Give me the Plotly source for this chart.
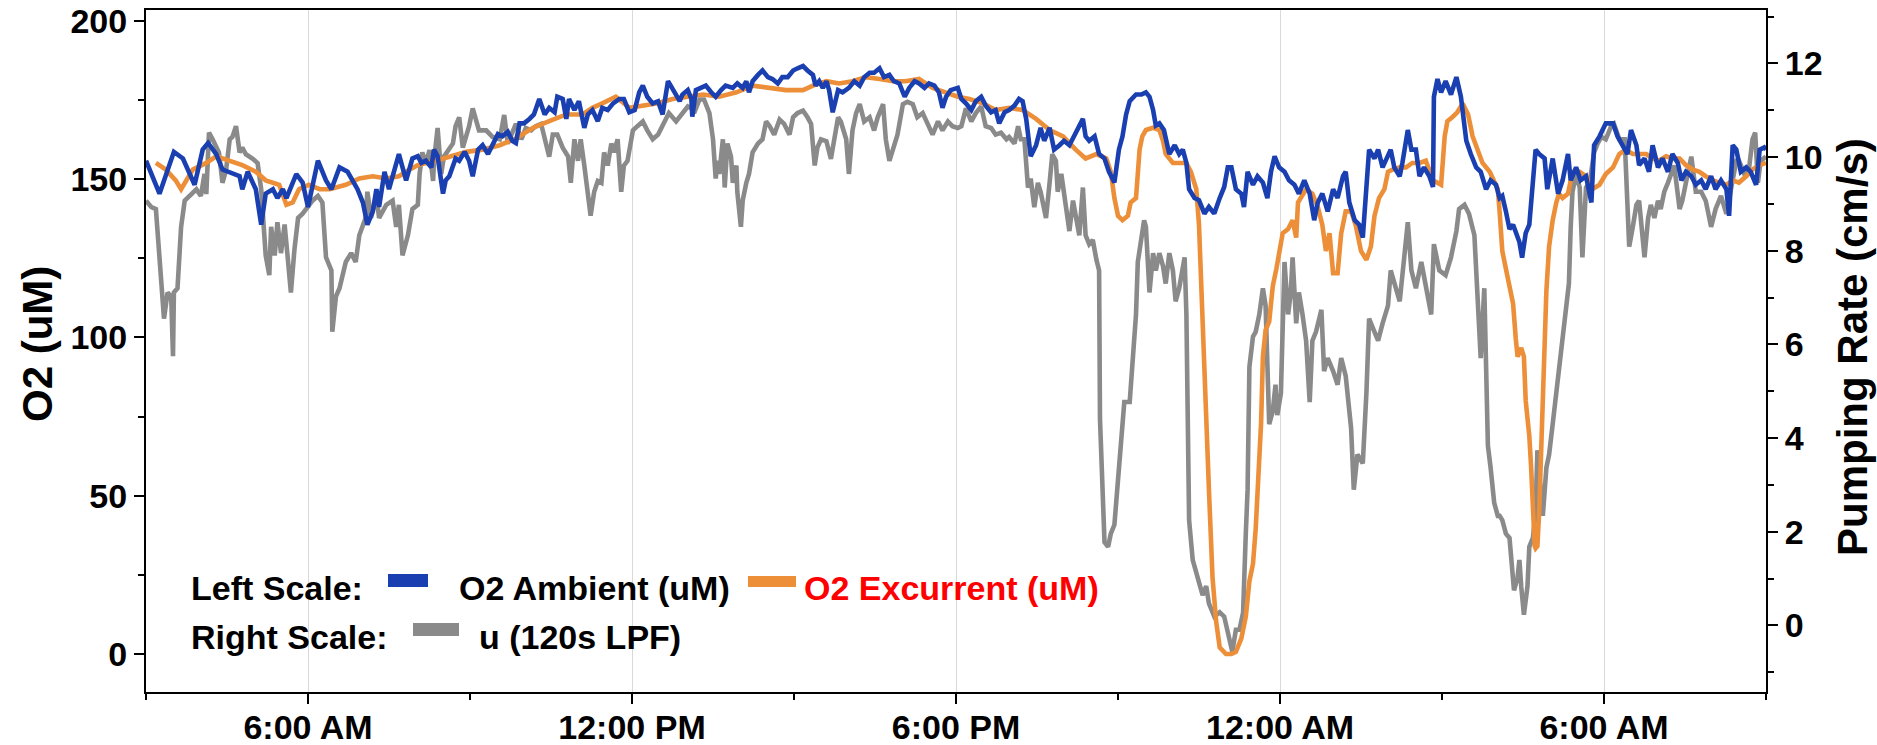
import pandas as pd
import plotly.graph_objects as go

# ---------------- data (minutes after 3:00 AM) ----------------
start = pd.Timestamp("2016-08-01 03:00")

ambient_min = [0, 15, 31, 41, 54, 63, 69, 78, 85, 96, 104, 107, 113, 122, 128, 133, 141, 146, 152, 156, 167, 174, 180, 191, 200, 206, 215, 224, 235, 241, 246, 252, 256, 259, 265, 270, 276, 281, 289, 296, 302,
               306, 311, 317, 320, 324, 330, 333, 337, 341, 344, 348, 354, 359, 363, 369, 374, 380, 385, 391, 396, 402, 407, 411, 415, 420, 426, 431, 437, 443, 448, 454, 457, 463, 467, 470, 476, 481, 487, 491, 496, 502, 507, 513, 519, 526, 531, 537, 543, 548, 552, 557, 563, 569, 574, 580, 583, 587, 593, 596, 602,
               606, 607, 611, 617, 622, 628, 633, 639, 644, 652, 657, 663, 667, 670, 674, 680, 685, 691, 696, 702, 707, 713, 719, 724, 730, 735, 741, 744, 748, 752, 756, 759, 763, 769, 774, 781, 787, 793, 798, 804, 809, 815, 820, 826, 831, 837, 843, 848, 854, 859, 865, 870, 876, 881, 885, 889, 894, 902,
               906, 911, 917, 922, 928, 933, 939, 944, 948, 954, 959, 965, 970, 974, 978, 983, 989, 994, 998, 1004, 1009, 1015, 1020, 1026, 1031, 1037, 1041, 1044, 1048, 1054, 1059, 1065, 1070, 1076, 1081, 1085, 1089, 1093, 1100, 1106, 1111, 1115, 1119, 1122, 1126, 1131, 1137, 1143, 1148, 1152, 1156, 1159, 1165, 1170, 1176, 1181, 1187, 1193, 1198, 1202,
               1206, 1211, 1217, 1220, 1224, 1230, 1235, 1241, 1246, 1250, 1254, 1259, 1265, 1270, 1276, 1281, 1287, 1293, 1298, 1302, 1307, 1313, 1319, 1324, 1330, 1333, 1337, 1343, 1348, 1352, 1356, 1359, 1365, 1369, 1374, 1380, 1383, 1387, 1393, 1396, 1402, 1406, 1411, 1415, 1420, 1426, 1430, 1431, 1435, 1439, 1444, 1450, 1456, 1461, 1467, 1472, 1478, 1483, 1489, 1494, 1500,
               1504, 1507, 1511, 1515, 1519, 1522, 1526, 1529, 1533, 1537, 1541, 1544, 1548, 1554, 1557, 1563, 1569, 1574, 1580, 1583, 1589, 1594, 1600, 1606, 1609, 1615, 1622, 1630, 1635, 1641, 1646, 1650, 1656, 1659, 1665, 1670, 1674, 1680, 1685, 1691, 1696, 1702, 1706, 1711, 1717, 1722, 1728, 1733, 1739, 1744, 1750, 1756, 1759, 1763, 1767, 1772, 1778, 1783, 1789, 1793, 1798, 1800]
ambient_o2 = [155.8, 145.4, 158.6, 156.5, 148.2, 159.3, 161.4, 157.9, 153.0, 151.6, 150.9, 146.8, 152.3, 146.8, 135.6, 145.4, 146.8, 144.0, 146.8, 144.0, 151.6, 148.9, 141.2, 155.8, 149.6, 146.8, 153.7, 152.3, 146.8, 142.6, 135.6, 139.8, 146.8, 141.2, 152.3, 146.8, 152.3, 157.9, 149.6, 156.5, 157.2,
              155.1, 155.8, 153.7, 159.3, 157.2, 145.4, 149.6, 150.9, 153.7, 156.5, 155.8, 158.6, 155.8, 150.9, 159.3, 160.7, 157.9, 160.7, 164.2, 163.5, 164.9, 162.1, 161.4, 167.6, 167.6, 169.0, 170.4, 175.3, 170.4, 172.5, 171.1, 176.0, 175.3, 169.0, 175.3, 171.8, 174.6, 166.2, 170.4, 171.8, 168.3, 172.5, 171.8, 173.9, 175.3, 175.3, 171.1, 171.8, 177.4, 179.5, 176.0, 173.9, 174.6, 170.4, 180.9, 179.5, 177.4, 174.6, 176.7, 178.1,
              175.3, 169.7, 178.1, 178.8, 179.5, 177.4, 176.0, 178.1, 179.5, 178.8, 180.2, 178.8, 180.9, 177.4, 180.9, 182.9, 184.3, 182.2, 181.6, 180.2, 182.2, 182.2, 184.3, 185.0, 185.7, 184.3, 182.9, 179.5, 180.9, 178.8, 180.9, 178.1, 171.1, 178.1, 177.4, 178.8, 180.9, 179.5, 182.2, 183.6, 183.6, 185.0, 182.2, 182.9, 180.9, 180.2, 176.0, 178.8, 180.9, 180.2, 178.8, 180.2, 179.5, 177.4, 172.5, 176.0, 178.1, 178.8,
              175.3, 173.9, 171.8, 174.6, 176.0, 173.2, 171.1, 171.8, 167.6, 171.1, 171.8, 173.2, 175.3, 174.6, 169.0, 157.2, 160.7, 166.2, 162.1, 166.2, 159.3, 160.7, 162.1, 160.7, 163.5, 166.2, 169.0, 163.5, 162.1, 163.5, 157.9, 156.5, 152.3, 148.9, 159.3, 163.5, 170.4, 174.6, 176.7, 176.7, 177.4, 176.0, 171.8, 166.9, 167.6, 165.5, 157.9, 160.7, 157.9, 159.3, 155.1, 146.8, 144.0, 143.3, 139.1, 141.2, 139.1, 144.0, 147.5, 153.7,
              153.7, 146.8, 145.4, 141.2, 152.3, 148.2, 150.9, 148.9, 144.0, 152.3, 157.2, 153.7, 152.3, 149.6, 148.2, 145.4, 149.6, 145.4, 137.0, 142.6, 145.4, 139.8, 146.8, 144.0, 150.9, 152.3, 142.6, 137.0, 135.6, 131.5, 145.4, 159.3, 156.5, 159.3, 153.7, 157.9, 159.3, 153.7, 150.9, 155.1, 165.5, 159.3, 159.3, 150.9, 153.7, 150.9, 147.5, 176.0, 181.6, 177.4, 180.9, 176.7, 182.2, 176.0, 162.1, 157.9, 153.7, 152.3, 146.8, 149.6, 148.2,
              144.0, 144.7, 139.8, 134.2, 135.6, 132.9, 130.1, 125.2, 132.9, 135.6, 149.6, 159.3, 157.9, 156.5, 146.8, 156.5, 145.4, 149.6, 157.9, 149.6, 153.7, 149.6, 150.9, 142.6, 160.7, 163.5, 167.6, 167.6, 163.5, 160.7, 157.9, 165.5, 160.7, 154.4, 156.5, 152.3, 160.7, 153.7, 156.5, 152.3, 157.9, 155.1, 149.6, 152.3, 150.9, 148.2, 149.6, 146.8, 150.9, 146.8, 149.6, 146.8, 138.4, 160.7, 159.3, 152.3, 153.7, 152.3, 148.2, 159.3, 160.0, 159.3]

excurrent_min = [11, 22, 33, 39, 52, 67, 78, 93, 107, 122, 133, 148, 156, 163, 170, 181, 193, 204, 222, 237, 252, 267, 281, 293, 302,
                 322, 337, 356, 374, 393, 411, 430, 448, 467, 485, 496, 507, 522, 537, 552, 567, 585, 602,
                 619, 637, 656, 674, 693, 711, 730, 741, 756, 770, 785, 800, 815, 830, 844, 859, 874, 889, 902,
                 915, 930, 944, 959, 974, 989, 1004, 1019, 1033, 1044, 1056, 1067, 1072, 1076, 1080, 1085, 1091, 1094, 1100, 1102, 1104, 1107, 1111, 1119, 1126, 1130, 1133, 1141, 1148, 1156, 1161, 1167, 1170, 1174, 1176, 1181, 1185, 1189, 1193, 1200,
                 1206, 1211, 1217, 1222, 1226, 1230, 1233, 1237, 1239, 1241, 1244, 1248, 1252, 1256, 1259, 1263, 1269, 1274, 1278, 1280, 1283, 1289, 1296, 1302, 1307, 1311, 1315, 1319, 1324, 1328, 1333, 1339, 1344, 1350, 1356, 1361, 1365, 1370, 1376, 1380, 1385, 1393, 1400, 1407, 1415, 1422, 1430, 1439, 1443, 1446, 1452, 1457, 1463, 1469, 1474, 1480, 1485, 1493, 1502,
                 1504, 1507, 1511, 1515, 1519, 1522, 1524, 1528, 1531, 1533, 1537, 1539, 1541, 1543, 1544, 1546, 1548, 1550, 1552, 1554, 1556, 1559, 1563, 1567, 1570, 1574, 1580, 1585, 1593, 1600, 1607, 1615, 1622, 1630, 1637, 1644, 1652, 1659, 1667, 1674, 1681, 1689, 1696, 1704, 1711, 1719, 1726, 1733, 1741, 1748, 1756, 1763, 1770, 1778, 1785, 1793, 1800]
excurrent_o2 = [155.1, 153.0, 149.6, 146.8, 153.0, 155.1, 157.2, 155.8, 154.4, 152.3, 149.6, 148.2, 141.9, 142.6, 146.8, 148.2, 146.8, 146.8, 148.2, 150.2, 150.9, 150.2, 150.9, 153.0, 154.4,
                155.8, 157.2, 158.6, 159.3, 160.7, 162.8, 166.2, 168.3, 170.4, 170.4, 172.5, 173.9, 176.0, 172.5, 173.2, 173.9, 175.3, 176.0,
                176.7, 176.0, 177.4, 179.5, 178.8, 178.1, 178.1, 179.5, 180.9, 180.2, 180.9, 182.2, 181.6, 180.9, 180.9, 181.6, 178.8, 177.4, 176.0,
                175.3, 173.9, 171.8, 172.5, 171.8, 169.0, 165.5, 163.5, 159.3, 156.5, 157.9, 156.5, 152.3, 144.0, 138.4, 137.0, 138.4, 142.6, 144.0, 152.3, 159.3, 163.5, 165.5, 166.2, 165.5, 162.1, 157.9, 155.1, 155.1, 155.1, 152.3, 146.8, 135.6, 105.0, 82.8, 52.2, 24.3, 10.4, 2.1, 0.0,
                0.0, 0.7, 4.9, 11.8, 23.0, 28.5, 39.6, 59.1, 73.0, 93.9, 102.3, 105.0, 116.2, 121.7, 125.9, 132.9, 134.2, 137.0, 131.5, 142.6, 144.0, 146.8, 145.4, 141.2, 135.6, 127.3, 132.9, 120.3, 120.3, 132.9, 139.8, 139.8, 135.6, 127.3, 124.5, 128.7, 138.4, 144.0, 146.8, 152.3, 153.0, 153.7, 153.7, 155.1, 155.1, 155.8, 149.6, 148.2, 163.5, 168.3, 169.7, 171.1, 173.9, 170.4, 163.5, 159.3, 155.1, 152.3, 146.8,
                139.8, 127.3, 121.7, 116.2, 110.6, 99.5, 93.9, 96.7, 93.9, 80.0, 68.9, 59.1, 45.2, 34.1, 33.4, 34.1, 45.2, 61.9, 80.0, 93.9, 114.8, 128.7, 137.0, 142.6, 145.4, 144.0, 145.4, 152.3, 152.3, 150.9, 146.8, 148.2, 151.6, 153.7, 157.9, 159.3, 157.9, 157.9, 157.9, 156.5, 155.8, 157.2, 156.5, 156.5, 154.4, 153.0, 152.3, 150.9, 149.6, 148.9, 148.2, 149.6, 148.9, 150.9, 153.0, 154.4, 155.1]

pump_min = [0, 6, 11, 17, 20, 24, 28, 30, 31, 35, 39, 43, 48, 56, 61, 65, 67, 70, 74, 78, 81, 85, 89, 93, 96, 100, 104, 107, 111, 119, 124, 128, 133, 137, 139, 143, 146, 150, 154, 157, 161, 165, 169, 174, 180, 185, 191, 196, 200, 206, 207, 211, 215, 219, 222, 228, 233, 237, 241, 244, 246, 250, 256, 259, 267, 274, 278, 281, 285, 291, 296, 302,
            304, 307, 311, 315, 319, 320, 324, 328, 331, 337, 341, 344, 348, 352, 356, 359, 363, 367, 370, 378, 385, 393, 398, 402, 406, 411, 417, 422, 428, 433, 439, 444, 448, 452, 457, 463, 469, 472, 476, 480, 483, 487, 491, 494, 498, 502, 506, 509, 513, 517, 520, 524, 528, 531, 535, 541, 546, 552, 557, 563, 569, 574, 581, 589, 596, 602,
            606, 609, 615, 620, 626, 630, 633, 635, 637, 641, 643, 646, 650, 652, 656, 657, 661, 663, 667, 670, 674, 680, 685, 689, 693, 698, 704, 709, 715, 719, 724, 730, 735, 739, 743, 746, 750, 756, 761, 765, 769, 772, 778, 781, 785, 789, 793, 798, 804, 809, 813, 819, 822, 826, 830, 835, 841, 846, 852, 857, 863, 869, 874, 880, 885, 891, 896, 902,
            906, 911, 917, 922, 928, 933, 939, 944, 950, 956, 959, 965, 969, 972, 976, 980, 983, 987, 991, 994, 1000, 1004, 1007, 1011, 1013, 1017, 1020, 1026, 1030, 1033, 1037, 1041, 1044, 1048, 1052, 1056, 1059, 1060, 1062, 1065, 1069, 1072, 1076, 1080, 1083, 1087, 1093, 1096, 1100, 1102, 1106, 1109, 1111, 1115, 1119, 1122, 1126, 1130, 1133, 1137, 1141, 1144, 1148, 1154, 1156, 1157, 1159, 1163, 1167, 1170, 1174, 1178, 1181, 1187, 1193, 1198, 1202,
            1204, 1207, 1211, 1215, 1219, 1220, 1222, 1224, 1226, 1230, 1233, 1237, 1241, 1244, 1248, 1252, 1255, 1257, 1261, 1265, 1269, 1272, 1274, 1278, 1281, 1285, 1289, 1293, 1296, 1300, 1306, 1309, 1313, 1319, 1324, 1328, 1333, 1339, 1342, 1346, 1352, 1356, 1359, 1363, 1369, 1374, 1380, 1383, 1387, 1393, 1396, 1402, 1406, 1411, 1417, 1422, 1428, 1431, 1437, 1444, 1450, 1456, 1459, 1465, 1470, 1476, 1481, 1483, 1487, 1491, 1494, 1498, 1502,
            1504, 1507, 1511, 1515, 1517, 1520, 1524, 1526, 1528, 1531, 1535, 1537, 1541, 1544, 1546, 1550, 1552, 1556, 1559, 1563, 1567, 1570, 1574, 1578, 1581, 1583, 1585, 1589, 1593, 1596, 1600, 1604, 1609, 1613, 1617, 1622, 1628, 1631, 1637, 1643, 1646, 1648, 1652, 1656, 1659, 1665, 1669, 1672, 1676, 1680, 1683, 1687, 1691, 1694, 1698, 1704, 1707, 1713, 1717, 1722, 1728, 1733, 1739, 1744, 1750, 1756, 1761, 1767, 1770, 1776, 1781, 1785, 1788, 1791, 1794, 1800]
pump_rate = [9.07, 8.93, 8.89, 7.20, 6.55, 7.11, 7.02, 5.75, 7.11, 7.20, 8.51, 9.07, 9.17, 9.31, 9.17, 9.64, 9.21, 10.52, 10.38, 10.20, 10.10, 9.45, 9.73, 10.38, 10.43, 10.66, 10.10, 10.20, 10.06, 9.96, 9.87, 9.31, 7.90, 7.48, 8.51, 7.90, 8.61, 7.95, 8.56, 7.95, 7.11, 8.04, 8.70, 8.79, 8.93, 9.07, 9.17, 9.03, 7.86, 7.58, 6.27, 7.02, 7.20, 7.48, 7.76, 7.95, 7.76, 8.33, 8.51, 8.70, 9.26, 8.70, 9.17, 8.70, 8.98, 9.07, 8.51, 8.98, 7.90, 8.33, 8.89, 8.98,
             9.64, 10.10, 9.87, 10.15, 9.49, 9.92, 10.62, 9.64, 10.01, 10.20, 10.29, 10.66, 10.85, 10.20, 10.48, 10.66, 11.04, 10.76, 10.57, 10.57, 10.43, 10.38, 10.90, 10.29, 10.48, 10.71, 10.38, 10.62, 10.57, 10.66, 10.71, 10.29, 10.01, 10.48, 10.48, 10.20, 10.01, 9.45, 10.38, 9.92, 10.38, 9.82, 9.26, 8.75, 9.26, 9.49, 9.45, 10.10, 9.82, 10.29, 10.10, 10.38, 9.26, 9.82, 9.92, 10.57, 10.66, 10.76, 10.57, 10.38, 10.48, 10.66, 10.94, 10.76, 10.94, 11.08,
             11.04, 10.94, 11.23, 11.23, 10.94, 10.38, 9.54, 9.92, 9.64, 10.38, 9.35, 10.29, 10.01, 9.45, 9.82, 9.26, 8.51, 9.07, 9.45, 9.64, 10.10, 10.29, 10.38, 10.76, 10.66, 10.48, 10.80, 10.71, 10.48, 10.85, 10.94, 10.99, 10.85, 10.71, 9.82, 10.20, 10.38, 10.34, 9.96, 10.48, 10.85, 10.76, 10.38, 9.64, 10.57, 10.94, 11.13, 10.76, 10.85, 10.57, 10.85, 11.13, 10.38, 9.92, 10.20, 10.48, 11.13, 11.18, 11.13, 10.85, 10.94, 10.66, 10.48, 10.76, 10.57, 10.76, 10.66, 10.62,
             10.66, 11.04, 10.76, 10.94, 11.08, 10.66, 10.62, 10.48, 10.52, 10.38, 10.43, 10.29, 10.66, 10.38, 10.38, 9.35, 9.54, 8.93, 9.45, 9.26, 8.70, 9.45, 10.06, 9.92, 9.26, 9.64, 9.17, 8.42, 9.07, 8.70, 8.33, 9.35, 8.33, 8.14, 8.23, 7.81, 7.58, 4.40, 3.09, 1.78, 1.68, 1.96, 2.15, 3.18, 4.02, 4.77, 4.77, 5.52, 6.64, 7.76, 8.33, 8.65, 8.51, 7.11, 7.95, 7.58, 7.95, 7.67, 7.30, 7.95, 7.58, 6.92, 7.20, 7.86, 6.64, 4.77, 2.25, 1.40, 1.12, 0.84, 0.65, 0.84, 0.47, 0.19, 0.28, 0.19, -0.19,
             -0.28, -0.56, -0.09, -0.09, 0.28, 1.03, 1.96, 2.90, 5.52, 6.17, 6.27, 6.64, 7.20, 6.83, 4.30, 4.58, 5.14, 4.49, 4.96, 7.76, 6.64, 7.11, 7.86, 6.45, 7.11, 6.64, 6.08, 4.77, 6.08, 6.27, 6.74, 5.43, 5.71, 5.43, 5.14, 5.71, 5.33, 4.21, 2.90, 3.65, 3.46, 4.96, 6.55, 6.36, 6.08, 6.45, 6.83, 7.58, 7.30, 6.92, 7.48, 8.61, 7.58, 7.20, 7.76, 7.20, 6.64, 8.14, 7.58, 7.48, 7.86, 8.42, 8.89, 8.98, 8.79, 8.33, 6.64, 5.71, 7.20, 3.84, 3.37, 2.62, 2.34,
             2.34, 2.25, 1.96, 1.87, 1.40, 0.75, 1.03, 1.40, 0.84, 0.23, 0.84, 1.68, 1.87, 2.43, 3.74, 2.90, 2.34, 3.37, 3.65, 4.30, 4.96, 5.52, 6.08, 6.83, 7.30, 8.51, 9.26, 9.64, 9.35, 7.86, 9.35, 9.45, 10.10, 10.29, 10.43, 10.38, 10.66, 10.71, 10.38, 10.38, 8.98, 8.09, 8.51, 8.98, 9.07, 7.86, 8.70, 8.98, 8.70, 9.07, 8.89, 9.26, 9.45, 9.64, 9.82, 8.89, 9.07, 9.64, 10.01, 9.26, 9.26, 9.07, 8.51, 8.89, 9.17, 8.79, 9.26, 9.92, 9.92, 9.64, 9.73, 10.38, 10.52, 9.45, 9.92, 10.01]

# axis ticks (hours after start) and labels
x_tick_hours = [3, 9, 15, 21, 27]
x_tick_labels = ["6:00 AM", "12:00 PM", "6:00 PM", "12:00 AM", "6:00 AM"]
o2_ticks = [0, 50, 100, 150, 200]
pump_ticks = [0, 2, 4, 6, 8, 10, 12]

# ---------------- figure ----------------
FONT = "Liberation Sans, Arial, sans-serif"
BLUE = "#1a3fb0"
ORANGE = "#ec8f38"
GRAY = "#8a8a8a"
LW = 4.6

def to_time(mins):
    return [start + pd.Timedelta(minutes=m) for m in mins]

fig = go.Figure()
# pumping rate on the primary (right-side) axis so it sits underneath the O2 lines
fig.add_trace(go.Scatter(x=to_time(pump_min), y=pump_rate, mode="lines",
                         line=dict(color=GRAY, width=LW), yaxis="y", showlegend=False))
fig.add_trace(go.Scatter(x=to_time(excurrent_min), y=excurrent_o2, mode="lines",
                         line=dict(color=ORANGE, width=LW), yaxis="y2", showlegend=False))
fig.add_trace(go.Scatter(x=to_time(ambient_min), y=ambient_o2, mode="lines",
                         line=dict(color=BLUE, width=LW), yaxis="y2", showlegend=False))

tick_font = dict(family=FONT, size=34, color="black", weight="bold")

L, R, T, B = 146, 1766, 10, 692   # plot area in pixels
fig.update_layout(
    width=1877, height=745,
    margin=dict(l=L, r=1877 - R, t=T, b=745 - B),
    paper_bgcolor="white", plot_bgcolor="white",
    showlegend=False,
    xaxis=dict(
        type="date", automargin=False,
        range=[start, start + pd.Timedelta(hours=30)],
        tickmode="array",
        tickvals=[start + pd.Timedelta(hours=h) for h in x_tick_hours],
        ticktext=x_tick_labels,
        ticks="outside", ticklen=10, tickwidth=1.5, tickcolor="black",
        tickfont=tick_font, ticklabelstandoff=-6,
        showgrid=True, gridcolor="#d9d9d9", gridwidth=1,
        showline=True, linecolor="black", linewidth=2, mirror=True,
        zeroline=False,
        minor=dict(tickmode="linear", tick0=start, dtick=3 * 3600 * 1000,
                   ticks="outside", ticklen=6, tickcolor="black", showgrid=False),
    ),
    yaxis=dict(
        side="right", automargin=False,
        range=[-1.42, 13.14],
        tickmode="array", tickvals=pump_ticks,
        ticks="outside", ticklen=10, tickwidth=1.5, tickcolor="black",
        tickfont=tick_font,
        showgrid=False, zeroline=False,
        showline=True, linecolor="black", linewidth=2,
        minor=dict(tickmode="linear", tick0=0, dtick=1, ticks="outside",
                   ticklen=6, tickcolor="black", showgrid=False),
    ),
    yaxis2=dict(
        side="left", overlaying="y", automargin=False,
        range=[-12.0, 203.4],
        tickmode="array", tickvals=o2_ticks,
        ticks="outside", ticklen=10, tickwidth=1.5, tickcolor="black",
        tickfont=tick_font,
        showgrid=False, zeroline=False,
        showline=True, linecolor="black", linewidth=2,
        minor=dict(tickmode="linear", tick0=0, dtick=25, ticks="outside",
                   ticklen=6, tickcolor="black", showgrid=False),
    ),
)

def px_x(X):
    return (X - L) / float(R - L)

def px_y(Y):
    return (B - Y) / float(B - T)

# axis titles
title_font = dict(family=FONT, size=42, color="black", weight="bold")
fig.add_annotation(text="O2 (uM)", x=px_x(37), y=px_y(344), xref="paper", yref="paper",
                   textangle=-90, showarrow=False, xanchor="center", yanchor="middle", font=title_font)
fig.add_annotation(text="Pumping Rate (cm/s)", x=px_x(1852), y=px_y(347), xref="paper", yref="paper",
                   textangle=-90, showarrow=False, xanchor="center", yanchor="middle", font=title_font)

# ---------------- custom legend ----------------
items = [
    ("Left Scale:", 189, 588, "black"),
    ("O2 Ambient (uM)", 457, 588, "black"),
    ("O2 Excurrent (uM)", 802, 588, "#ff0000"),
    ("Right Scale:", 189, 637, "black"),
    ("u (120s LPF)", 477, 637, "black"),
]
for txt, X, Y, col in items:
    fig.add_annotation(text=txt, x=px_x(X), y=px_y(Y), xref="paper", yref="paper",
                       xanchor="left", yanchor="middle", showarrow=False,
                       font=dict(family=FONT, size=34, color=col, weight="bold"))

swatches = [(388, 428, 574, 587, BLUE), (748, 796, 576, 587, ORANGE), (413, 459, 623, 636, GRAY)]
for x0, x1, y0, y1, col in swatches:
    fig.add_shape(type="rect", xref="paper", yref="paper",
                  x0=px_x(x0), x1=px_x(x1), y0=px_y(y1), y1=px_y(y0),
                  fillcolor=col, line=dict(width=0))

# remove the default page margin so the figure fills the window exactly
fig.write_html("out.html",
               config={"displayModeBar": False},
               post_script="document.body.style.margin='0';document.body.style.overflow='hidden';")
